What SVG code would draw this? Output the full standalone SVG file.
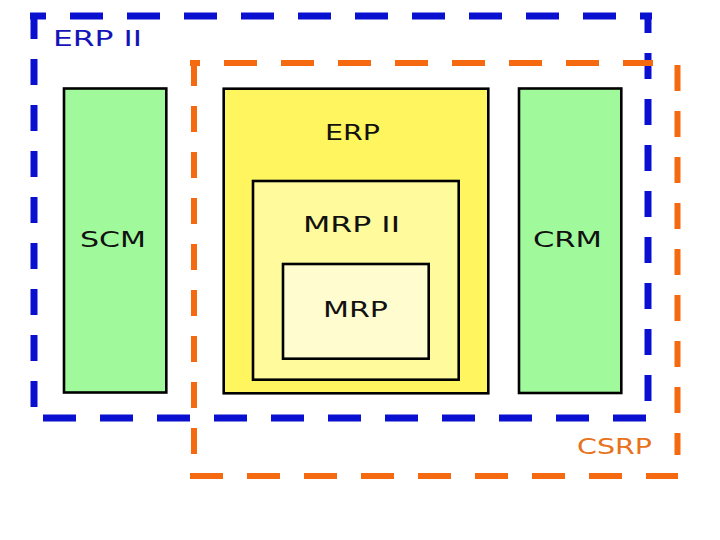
<svg xmlns="http://www.w3.org/2000/svg" width="720" height="540" viewBox="0 0 720 540">
  <style>
    .box { stroke: #000; stroke-width: 2.6; }
    .lbl { font-family: "DejaVu Sans", Verdana, sans-serif; font-size: 20.5px; fill: #111; }
    .blue { stroke: #0a10d0; stroke-width: 7; fill: none; }
    .orange { stroke: #f56a10; stroke-width: 6; fill: none; }
    .h { stroke-dasharray: 33 24; }
    .v { stroke-dasharray: 26 20; }
  </style>
  <rect width="720" height="540" fill="#fff"/>

  <g id="erp2-boundary">
    <line class="blue h" x1="30" y1="16" x2="652" y2="16" stroke-dashoffset="17"/>
    <line class="blue v" x1="34" y1="13" x2="34" y2="407"/>
    <line class="blue h" x1="43" y1="418" x2="647" y2="418"/>
    <line class="blue v" x1="648" y1="13" x2="648" y2="401" stroke-dashoffset="6"/>
    <text class="lbl" x="53" y="46" textLength="89" lengthAdjust="spacingAndGlyphs" style="fill:#1414b8">ERP II</text>
  </g>

  <g id="csrp-boundary">
    <line class="orange h" x1="190" y1="63" x2="653" y2="63" stroke-dashoffset="23"/>
    <line class="orange v" x1="194" y1="60" x2="194" y2="455"/>
    <line class="orange h" x1="190" y1="476" x2="678" y2="476"/>
    <line class="orange v" x1="677.5" y1="65" x2="677.5" y2="455"/>
    <text class="lbl" x="577" y="454" textLength="75" lengthAdjust="spacingAndGlyphs" style="fill:#e8721c">CSRP</text>
  </g>

  <g id="scm">
    <rect class="box" x="64" y="88.5" width="102.3" height="304" fill="#a0fa9c"/>
    <text class="lbl" x="80" y="247" textLength="66" lengthAdjust="spacingAndGlyphs">SCM</text>
  </g>

  <g id="erp">
    <rect class="box" x="223.7" y="88.7" width="264.6" height="304.6" fill="#fff55e"/>
    <text class="lbl" x="325" y="140" textLength="55" lengthAdjust="spacingAndGlyphs">ERP</text>
  </g>

  <g id="mrp2">
    <rect class="box" x="253" y="181" width="205.7" height="198.7" fill="#fffa9c"/>
    <text class="lbl" x="303" y="232" textLength="97" lengthAdjust="spacingAndGlyphs">MRP II</text>
  </g>

  <g id="mrp">
    <rect class="box" x="283" y="264" width="145.7" height="94.7" fill="#fffdd0"/>
    <text class="lbl" x="323" y="317" textLength="65" lengthAdjust="spacingAndGlyphs">MRP</text>
  </g>

  <g id="crm">
    <rect class="box" x="519" y="88.5" width="102.3" height="304.5" fill="#a0fa9c"/>
    <text class="lbl" x="533" y="247" textLength="69" lengthAdjust="spacingAndGlyphs">CRM</text>
  </g>

  <g id="connectors"/>
</svg>
